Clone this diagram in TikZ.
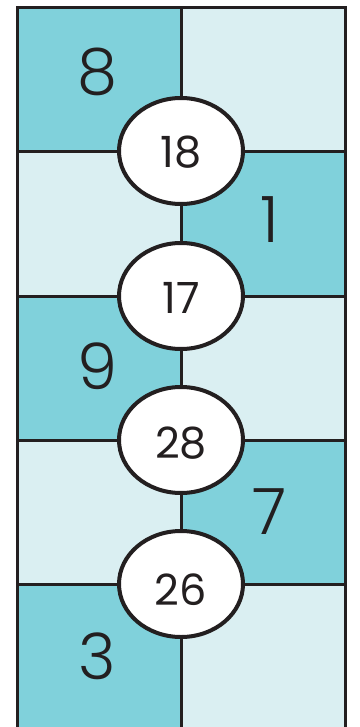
\documentclass[tikz,border=0pt]{standalone}
\usepackage{fontspec}
\setmainfont{Poppins Light}
\newfontfamily\ovalfont{Poppins}
\definecolor{dk}{HTML}{80D1DB}
\definecolor{lt}{HTML}{DAEFF2}
\definecolor{ink}{HTML}{231F20}
\usetikzlibrary{shapes.geometric}
\tikzset{
  gridline/.style={draw=ink, line width=3pt},
  oval/.style={draw=ink, line width=4pt, fill=white, ellipse, minimum width=124pt, minimum height=106pt, inner sep=0pt},
  small/.style={font=\ovalfont\fontsize{43}{43}\selectfont, text=ink, inner sep=0pt},
  big/.style={font=\fontsize{64}{64}\selectfont, text=ink, inner sep=0pt}
}
\begin{document}
\begin{tikzpicture}[x=1pt,y=-1pt]
\useasboundingbox (0,0) rectangle (359,727);
% cells
\fill[dk] (17,8) rectangle (181,152);
\fill[lt] (181,8) rectangle (345,152);
\fill[lt] (17,152) rectangle (181,296);
\fill[dk] (181,152) rectangle (345,296);
\fill[dk] (17,296) rectangle (181,440);
\fill[lt] (181,296) rectangle (345,440);
\fill[lt] (17,440) rectangle (181,584);
\fill[dk] (181,440) rectangle (345,584);
\fill[dk] (17,584) rectangle (181,727);
\fill[lt] (181,584) rectangle (345,727);
% grid
\draw[gridline] (17,727) -- (17,8) -- (345,8) -- (345,727);
\draw[gridline] (181,8) -- (181,727);
\foreach \y in {152,296,440,584} \draw[gridline] (17,\y) -- (345,\y);
% numbers
\node[big] (n8) at (97,72) {8};
\node[big] (n1) at (270,220) {1};
\node[big] (n9) at (97,366) {9};
\node[big] (n7) at (270,512) {7};
\node[big] (n3) at (97,656) {3};
% ovals
\node[oval] (o18) at (181,151) {};
\node[oval] (o17) at (181,296) {};
\node[oval] (o28) at (181,440) {};
\node[oval] (o26) at (181,584) {};
\node[small] (t18) at (181,152) {18};
\node[small] (t17) at (181,298) {17};
\node[small] (t28) at (181,443) {28};
\node[small] (t26) at (181,590) {26};
\end{tikzpicture}
\end{document}
